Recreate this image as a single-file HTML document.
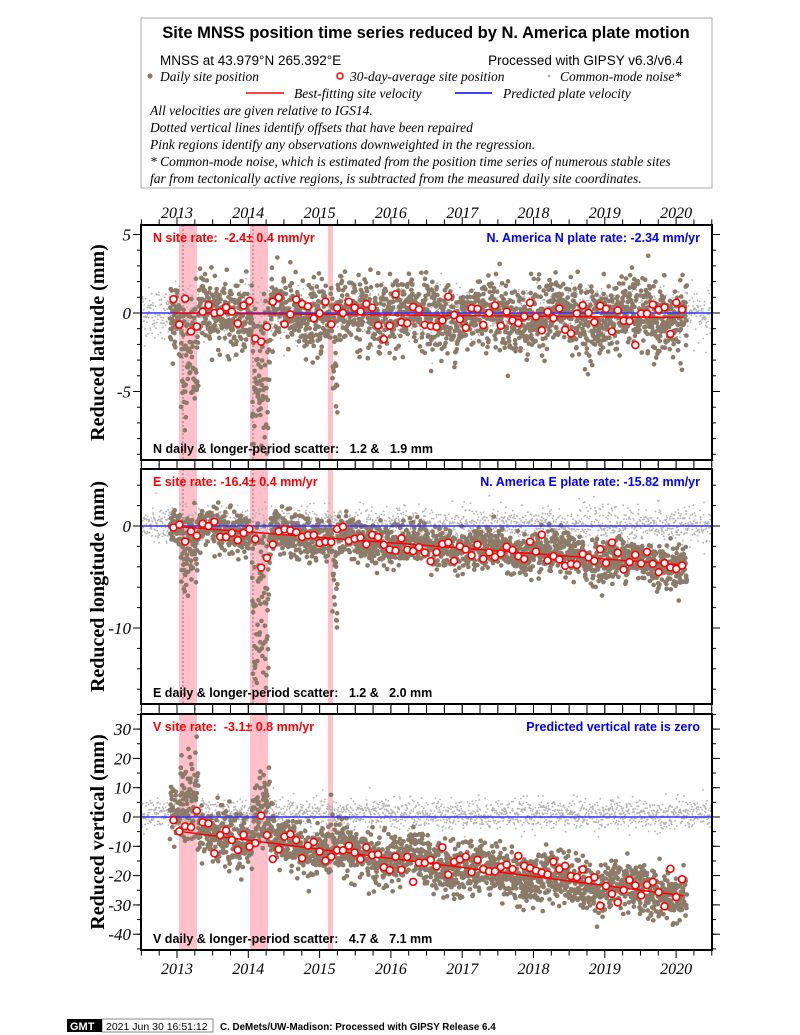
<!DOCTYPE html>
<html><head><meta charset="utf-8"><style>
body{margin:0;background:#fff;width:800px;height:1035px;overflow:hidden}
svg{display:block}
.t{font-family:"Liberation Serif",serif;font-style:italic}
.s{font-family:"Liberation Sans",sans-serif}
.pre{white-space:pre}
</style></head><body>
<svg id="g" width="800" height="1035" xmlns="http://www.w3.org/2000/svg">
<rect x="141" y="18" width="571" height="170" fill="#fff" stroke="#aaa" stroke-width="1"/>
<text x="426" y="38" text-anchor="middle" class="s" font-weight="bold" font-size="16.5">Site MNSS position time series reduced by N. America plate motion</text>
<text x="160" y="65" class="s" font-size="13.5">MNSS at 43.979°N 265.392°E</text>
<text x="683" y="65" text-anchor="end" class="s" font-size="13.5">Processed with GIPSY v6.3/v6.4</text>
<circle cx="150" cy="76" r="2.6" fill="#8c7b68"/>
<text x="160" y="81" class="t" font-size="13.5">Daily site position</text>
<circle cx="340" cy="76" r="3" fill="#fff" stroke="red" stroke-width="1.5"/>
<text x="350" y="81" class="t" font-size="13.5">30-day-average site position</text>
<circle cx="549" cy="76" r="1.3" fill="#aaa"/>
<text x="560" y="81" class="t" font-size="13.5">Common-mode noise*</text>
<line x1="246" y1="93" x2="284" y2="93" stroke="red" stroke-width="1.5"/>
<text x="294" y="98" class="t" font-size="13.5">Best-fitting site velocity</text>
<line x1="455" y1="93" x2="492" y2="93" stroke="blue" stroke-width="1.5"/>
<text x="503" y="98" class="t" font-size="13.5">Predicted plate velocity</text>
<g class="t" font-size="13.5">
<text x="150" y="115">All velocities are given relative to IGS14.</text>
<text x="150" y="132">Dotted vertical lines identify offsets that have been repaired</text>
<text x="150" y="149">Pink regions identify any observations downweighted in the regression.</text>
<text x="150" y="166">* Common-mode noise, which is estimated from the position time series of numerous stable sites</text>
<text x="150" y="183">far from tectonically active regions, is subtracted from the measured daily site coordinates.</text>
</g>
<g id="plots"></g>
<rect x="102" y="1019" width="111" height="13" fill="#fff" stroke="#888"/>
<rect x="67" y="1019" width="35" height="13" fill="#000"/>
<text x="70" y="1030" fill="#fff" class="s" font-size="11" font-weight="bold">GMT</text>
<text x="106" y="1030" class="s" font-size="10.5">2021 Jun 30 16:51:12</text>
<text x="220" y="1030" class="s" font-size="9.8" font-weight="bold">C. DeMets/UW-Madison: Processed with GIPSY Release 6.4</text>
</svg>
<script>
var NS="http://www.w3.org/2000/svg",G=document.getElementById('plots');
function el(t,a,p,txt){if(typeof p==='string'){txt=p;p=null;}var e=document.createElementNS(NS,t);for(var k in a)e.setAttribute(k,a[k]);if(txt!==undefined)e.textContent=txt;(p||G).appendChild(e);return e;}
var seed=12345;function rnd(){seed=(seed*1103515245+12345)%2147483648;return seed/2147483648;}
function gau(){return Math.sqrt(-2*Math.log(rnd()+1e-9))*Math.cos(6.2832*rnd());}
var L=141,R=712;function X(t){return 177+(t-2013)*71.3;}
var P=[
{top:225,bot:460,y0:313,k:15.7,ticks:[5,0,-5],minor:1,lab:'Reduced latitude (mm)',std:1.1,slope:-0.04,int:0,spk:[6,7,6],
 t1:'N site rate:  -2.4± 0.4 mm/yr',t2:'N. America N plate rate: -2.34 mm/yr',t3:'N daily & longer-period scatter:   1.2 &   1.9 mm',cm:0.8,seas:0.7},
{top:469,bot:704,y0:526,k:10.2,ticks:[0,-10],minor:2,lab:'Reduced longitude (mm)',std:1.0,slope:-0.53,int:0,spk:[5,14,10],
 t1:'E site rate: -16.4± 0.4 mm/yr',t2:'N. America E plate rate: -15.82 mm/yr',t3:'E daily & longer-period scatter:   1.2 &   2.0 mm',cm:0.9,seas:0.6},
{top:714,bot:950,y0:817,k:2.93,ticks:[30,20,10,0,-10,-20,-30,-40],minor:5,lab:'Reduced vertical (mm)',std:4.3,slope:-3.1,int:-4.5,spk:[-22,-18,-6],
 t1:'V site rate:  -3.1± 0.8 mm/yr',t2:'Predicted vertical rate is zero',t3:'V daily & longer-period scatter:   4.7 &   7.1 mm',cm:2.5,seas:3}
];
P.forEach(function(p,i){
 var cid='c'+i;var cp=el('clipPath',{id:cid});el('rect',{x:L,y:p.top,width:R-L,height:p.bot-p.top},cp);
 var g=el('g',{'clip-path':'url(#'+cid+')'});
 [[179,197],[250,268],[328,333]].forEach(function(r){el('rect',{x:r[0],y:p.top,width:r[1]-r[0],height:p.bot-p.top,fill:'#ffc0cb'},g);});
 if(i<2){[183,253].forEach(function(x){el('line',{x1:x,y1:p.top,x2:x,y2:p.bot,stroke:'#555','stroke-width':0.7,'stroke-dasharray':'2,2'},g);});}
 function Y(v){return p.y0-v*p.k;}
 var s='';for(var t=2012.4;t<2020.55;t+=0.004){var v=gau()*p.cm+(i==2?1:0);s+='M'+X(t).toFixed(1)+','+Y(v).toFixed(1)+'h0.1';}
 el('path',{d:s,stroke:'#b4b4b4','stroke-width':1.8,'stroke-linecap':'round'},g);
 function model(t){var v=p.int+p.slope*(t-2012.9)+p.seas*Math.sin(6.28*(t-2013.1))*0.6;
  if(t>2013.05&&t<2013.3)v-=p.spk[0]*rnd();
  if(t>2014.05&&t<2014.3)v-=p.spk[1]*rnd();
  if(t>2015.18&&t<2015.25)v-=p.spk[2]*rnd();
  if(i==2&&t>2012.9&&t<2013.05)v+=12*rnd();
  return v;}
 s='';for(var t=2012.9;t<2020.15;t+=0.0032){var v=model(t)+gau()*p.std;s+='M'+X(t).toFixed(1)+','+Y(v).toFixed(1)+'h0.1';}
 el('path',{d:s,stroke:'#8c7b68','stroke-width':4.6,'stroke-linecap':'round'},g);
 el('line',{x1:L,y1:Y(0),x2:R,y2:Y(0),stroke:'#33f','stroke-width':1.6},g);
 el('line',{x1:X(2012.95),y1:Y(p.int+p.slope*0.05),x2:X(2020.1),y2:Y(p.int+p.slope*7.2),stroke:'red','stroke-width':1.5},g);
 for(var t=2012.95;t<2020.15;t+=0.082){var v=p.int+p.slope*(t-2012.9)+gau()*p.std*0.7;
  if(t>2013.05&&t<2013.3||t>2014.05&&t<2014.3)v-=p.spk[t<2014?0:1]*0.4*rnd();
  el('circle',{cx:X(t),cy:Y(v),r:3.5,fill:'#fff',stroke:'red','stroke-width':1.6},g);}
 el('rect',{x:L,y:p.top,width:R-L,height:p.bot-p.top,fill:'none',stroke:'#000','stroke-width':2});
 p.ticks.forEach(function(v){el('line',{x1:L-8,y1:Y(v),x2:L,y2:Y(v),stroke:'#000'});el('line',{x1:R,y1:Y(v),x2:R+8,y2:Y(v),stroke:'#000'});
  el('text',{x:L-10,y:Y(v)+6,'text-anchor':'end','class':'t','font-size':17},null,String(v));});
 for(var v=-60;v<=60;v+=p.minor){var yy=Y(v);if(yy>p.bot||yy<p.top)continue;el('line',{x1:L-4,y1:yy,x2:L,y2:yy,stroke:'#000'});el('line',{x1:R,y1:yy,x2:R+4,y2:yy,stroke:'#000'});}
 el('text',{x:-((p.top+p.bot)/2),y:104,transform:'rotate(-90)','text-anchor':'middle','font-family':'Liberation Serif,serif','font-weight':'bold','font-size':20},null,p.lab);
 el('text',{x:153,y:p.top+17,'class':'s pre','font-weight':'bold','font-size':12.5,fill:'red'},null,p.t1);
 el('text',{x:700,y:p.top+17,'text-anchor':'end','class':'s pre','font-weight':'bold','font-size':12.5,fill:'blue'},null,p.t2);
 el('text',{x:153,y:p.bot-7,'class':'s pre','font-weight':'bold','font-size':12.5},null,p.t3);
});
function tickRow(y,dir,len){for(var q=2012.5;q<2020.55;q+=0.25){var x=X(q);if(x<L||x>R)continue;var big=Math.abs(q-Math.round(q))<0.01;
 el('line',{x1:x,y1:y,x2:x,y2:y+dir*(big?len:len*0.7),stroke:'#000'});}}
tickRow(225,-1,8);tickRow(460,1,9);tickRow(469,-1,9);tickRow(704,1,10);tickRow(714,-1,10);tickRow(950,1,8);
for(var y=2013;y<=2020;y++){el('text',{x:X(y),y:218,'text-anchor':'middle','class':'t','font-size':16},null,String(y));
 el('text',{x:X(y),y:974,'text-anchor':'middle','class':'t','font-size':16},null,String(y));}
</script>
</body></html>
